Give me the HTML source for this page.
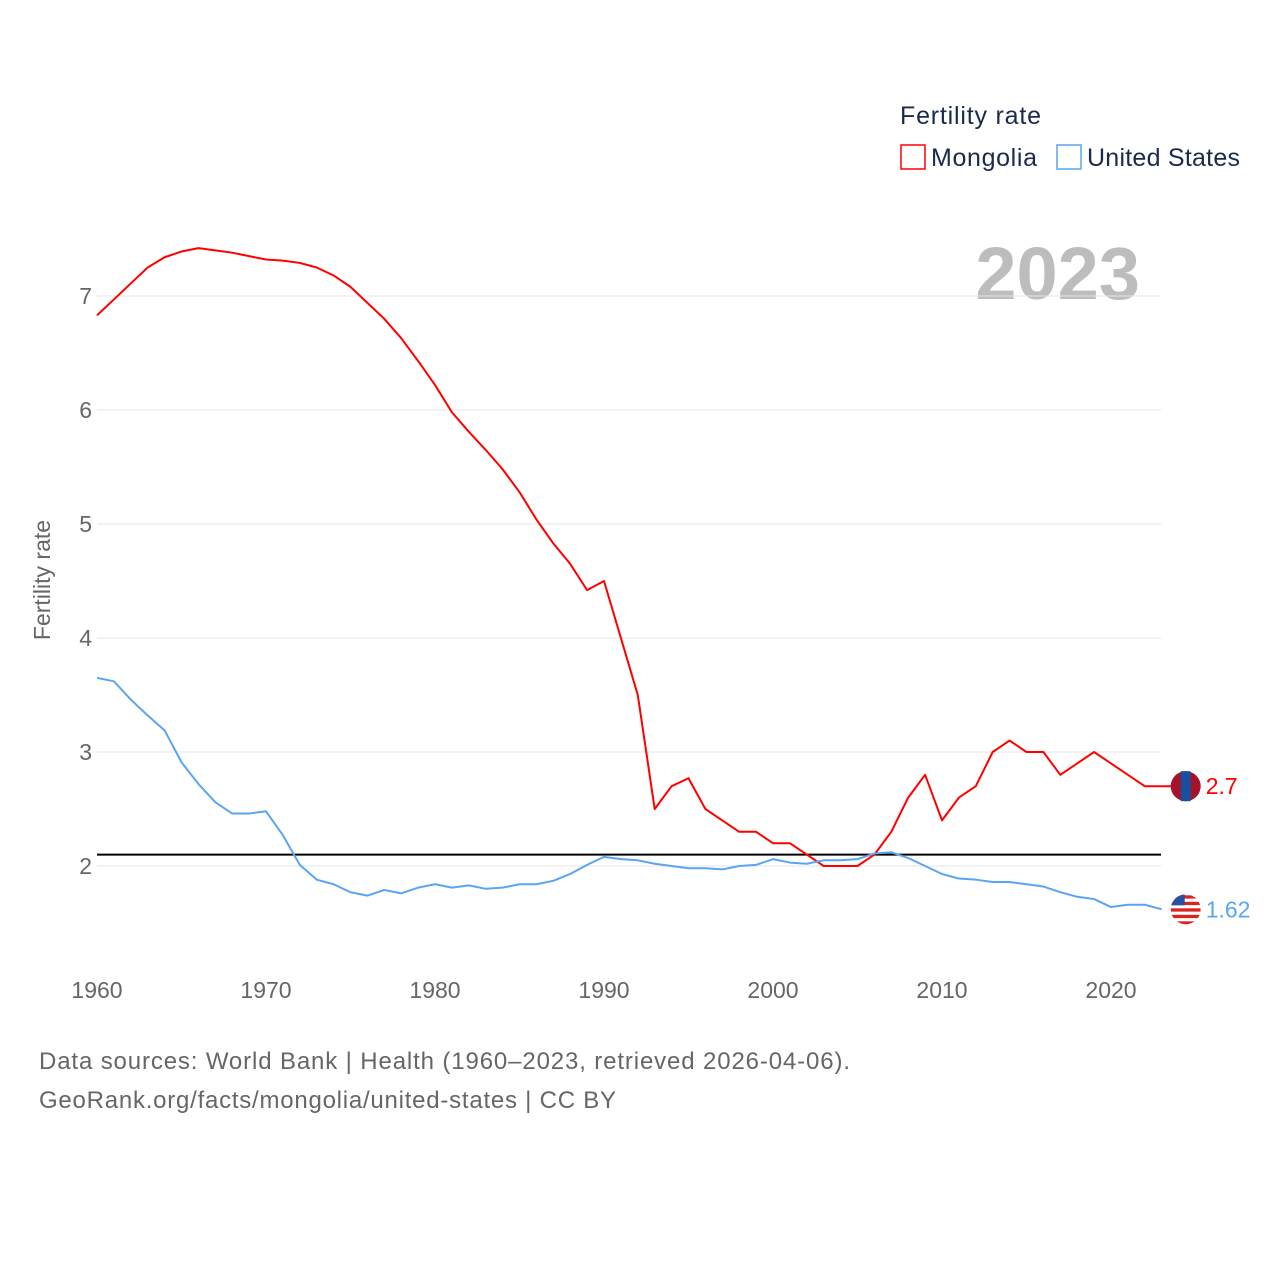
<!DOCTYPE html>
<html><head><meta charset="utf-8"><style>
body{margin:0;background:#fff;width:1280px;height:1280px;overflow:hidden;font-family:"Liberation Sans",sans-serif}
</style></head><body>
<svg id="chart" width="1280" height="1280" xmlns="http://www.w3.org/2000/svg" font-family="Liberation Sans, sans-serif">
<defs><clipPath id="usclip"><circle id="usclipc" cx="0" cy="0" r="15"/></clipPath></defs>
<text x="900" y="124" font-size="25" fill="#1a2a4a" textLength="141">Fertility rate</text>
<rect x="901" y="145" width="24" height="24" fill="none" stroke="#ff0000" stroke-width="1.5"/>
<text x="931" y="166" font-size="25" fill="#1a2a4a" textLength="106">Mongolia</text>
<rect x="1057" y="145" width="24" height="24" fill="none" stroke="#5aa5f0" stroke-width="1.5"/>
<text x="1087" y="166" font-size="25" fill="#1a2a4a" textLength="153">United States</text>
<text x="1140" y="299" font-size="74" font-weight="bold" fill="#bdbdbd" text-anchor="end">2023</text>
<text transform="translate(50,580) rotate(-90)" font-size="23" fill="#666" text-anchor="middle">Fertility rate</text>
<g id="grid"></g><g id="lines"></g>
<text x="39" y="1069" font-size="24" fill="#666" textLength="811">Data sources: World Bank | Health (1960–2023, retrieved 2026-04-06).</text>
<text x="39" y="1108" font-size="24" fill="#666" textLength="577">GeoRank.org/facts/mongolia/united-states | CC BY</text>
</svg>
<script>
const years=[];for(let y=1960;y<=2023;y++)years.push(y);
const mongolia=[6.83,6.97,7.11,7.25,7.34,7.39,7.42,7.40,7.38,7.35,7.32,7.31,7.29,7.25,7.18,7.08,6.94,6.80,6.63,6.43,6.22,5.98,5.81,5.65,5.48,5.28,5.04,4.83,4.65,4.42,4.50,4.00,3.50,2.50,2.70,2.77,2.50,2.40,2.30,2.30,2.20,2.20,2.10,2.00,2.00,2.00,2.10,2.30,2.60,2.80,2.40,2.60,2.70,3.00,3.10,3.00,3.00,2.80,2.90,3.00,2.90,2.80,2.70,2.70];
const us=[3.65,3.62,3.46,3.32,3.19,2.91,2.72,2.56,2.46,2.46,2.48,2.27,2.01,1.88,1.84,1.77,1.74,1.79,1.76,1.81,1.84,1.81,1.83,1.80,1.81,1.84,1.84,1.87,1.93,2.01,2.08,2.06,2.05,2.02,2.00,1.98,1.98,1.97,2.00,2.01,2.06,2.03,2.02,2.05,2.05,2.06,2.11,2.12,2.07,2.00,1.93,1.89,1.88,1.86,1.86,1.84,1.82,1.77,1.73,1.71,1.64,1.66,1.66,1.62];
const yTicks=[2,3,4,5,6,7];
const xTicks=[1960,1970,1980,1990,2000,2010,2020];
const replacement=2.1;
const X=y=>97+(y-1960)*(1014/60);
const Y=v=>866-(v-2)*114;
const NS="http://www.w3.org/2000/svg";
const grid=document.getElementById('grid'),lines=document.getElementById('lines');
function mk(tag,attrs,parent,txt){const e=document.createElementNS(NS,tag);for(const k in attrs)e.setAttribute(k,attrs[k]);if(txt!==undefined)e.textContent=txt;parent.appendChild(e);return e;}
yTicks.forEach(t=>{
 const l=mk('line',{x1:97,x2:1161,y1:Y(t),y2:Y(t),stroke:'#e6e6e6','stroke-width':1},grid);
 
 
 const tx=mk('text',{x:92,y:Y(t)+8,'font-size':23,fill:'#666','text-anchor':'end'},grid,String(t));
 
 
});
xTicks.forEach(t=>{
 const tx=mk('text',{x:X(t),y:998,'font-size':23,fill:'#666','text-anchor':'middle'},grid,String(t));
 
 
});
const rl=mk('line',{x1:97,x2:1161,y1:Y(replacement),y2:Y(replacement),stroke:'#000','stroke-width':2},lines);


function series(vals,color,name){
 const p=mk('polyline',{points:vals.map((v,i)=>X(years[i])+','+Y(v)).join(' '),fill:'none',stroke:color,'stroke-width':2,'stroke-linejoin':'round'},lines);
 
 
}
series(mongolia,'#ff0000','mongolia');
series(us,'#5aa5f0','us');
const lx=X(2023);
const mv=mongolia[mongolia.length-1], uv=us[us.length-1];
mk('line',{x1:lx,x2:lx+24,y1:Y(mv),y2:Y(mv),stroke:'#ff0000','stroke-width':2},lines);
const mf=mk('g',{},lines);


mk('circle',{cx:lx+24,cy:Y(mv),r:15,fill:'#a5132a'},mf);
mk('rect',{x:lx+19,y:Y(mv)-15,width:10,height:30,fill:'#1a4fa0'},mf);
const ml=mk('text',{x:lx+44,y:Y(mv)+8,'font-size':23,fill:'#ff0000'},lines,String(mv));


const cc=document.getElementById('usclipc');cc.setAttribute('cx',lx+24);cc.setAttribute('cy',Y(uv));
const uf=mk('g',{'clip-path':'url(#usclip)'},lines);


mk('circle',{cx:lx+24,cy:Y(uv),r:15,fill:'#fff'},uf);
for(let i=0;i<5;i++)mk('rect',{x:lx+9,y:Y(uv)-14+i*6.5,width:30,height:3.3,fill:'#d22'},uf);
mk('rect',{x:lx+9,y:Y(uv)-15,width:14,height:11,fill:'#2a4ea0'},uf);
const ul=mk('text',{x:lx+44,y:Y(uv)+8,'font-size':23,fill:'#5aa5f0'},lines,String(uv));


</script>
</body></html>
